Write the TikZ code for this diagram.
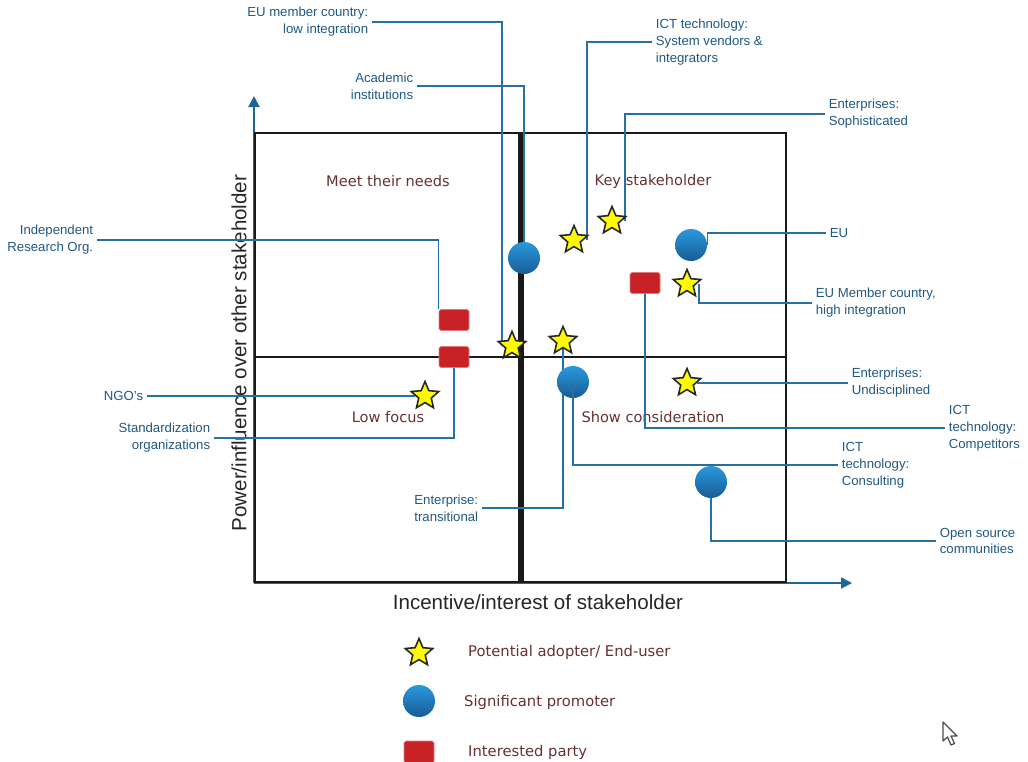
\documentclass[tikz,border=0pt]{standalone}
\usepackage{fontspec}
\setmainfont{Liberation Sans}
\newfontfamily\verdfont{DejaVu Sans}
\usetikzlibrary{arrows.meta}
\usetikzlibrary{shapes.geometric}
\pgfdeclarelayer{background}
\pgfsetlayers{background,main}
\definecolor{calblue}{RGB}{38,112,163}
\definecolor{caltext}{RGB}{32,88,132}
\definecolor{axblue}{RGB}{31,102,152}
\definecolor{quadred}{RGB}{104,48,48}
\definecolor{starfill}{RGB}{255,250,0}
\definecolor{promtop}{RGB}{42,152,222}
\definecolor{prombot}{RGB}{24,92,148}
\definecolor{partyred}{RGB}{200,34,38}
\tikzset{
    mk_star/.style = {star, star points=5, star point ratio=2.2, draw=black!85,
        fill=starfill, line width=0.9pt, minimum size=0.58cm, inner sep=0pt},% potential adopter
    mk_prom/.style = {circle, top color=promtop, bottom color=prombot,
        minimum size=0.64cm, inner sep=0pt},% significant promoter
    mk_party/.style = {rectangle, rounded corners=1pt, fill=partyred, draw=partyred!60,
        minimum width=0.6cm, minimum height=0.42cm, inner sep=0pt},% interested party
    callout/.style = {text=caltext, inner sep=2pt,
        font=\fontsize{7.5}{9.6}\selectfont},
    lbl_l/.style = {callout, anchor=west, align=left},% label right of its line
    lbl_r/.style = {callout, anchor=east, align=right},% label left of its line
    conn/.style = {draw=calblue, line width=0.9pt},
    quad/.style = {text=quadred, font=\verdfont\fontsize{8.3}{10}\selectfont},
    leg/.style = {quad, anchor=west, font=\verdfont\fontsize{8.4}{10}\selectfont},
    axlbl/.style = {font=\fontsize{11.7}{13}\selectfont, text=black!85},
    gridln/.style = {draw=black!90, line width=1.5pt},
    axis/.style = {axblue, line width=1.1pt, -{Triangle[length=0.22cm, width=0.22cm]}},
}
\begin{document}
\begin{tikzpicture}[x=0.02cm,y=-0.02cm]
\useasboundingbox (0,0) rectangle (1028,761);

\begin{pgfonlayer}{background}
% axes
\coordinate (orig) at (254,583);
\coordinate (ytip) at (254,96);
\coordinate (xtip) at (852,583);
\draw[axis] (orig) -- (ytip);
\draw[axis] (orig) -- (xtip);
% grid
\draw[gridln] (255,133) rectangle (786,582);
\draw[gridln] (255,357) -- (786,357);
\draw[gridln, line width=3pt] (521,133) -- (521,582);
\node[axlbl, rotate=90] (ylab) at (239,353) {Power/influence over other stakeholder};
\node[axlbl] (xlab) at (538,602) {Incentive/interest of stakeholder};
% quadrants
\node[quad] (q_meet) at (388,181) {Meet their needs};
\node[quad] (q_key) at (653,181) {Key stakeholder};
\node[quad] (q_low) at (388,417) {Low focus};
\node[quad] (q_show) at (653,417) {Show consideration};
\end{pgfonlayer}

% stakeholders
\node[mk_star] (s_vend) at (574,240) {};
\node[mk_star] (s_soph) at (612,221) {};
\node[mk_star] (s_high) at (687,284) {};
\node[mk_star] (s_low) at (512,346) {};
\node[mk_star] (s_trans) at (563,341) {};
\node[mk_star] (s_ngo) at (425,396) {};
\node[mk_star] (s_undis) at (687,383) {};
\node[mk_prom] (c_acad) at (524,258) {};
\node[mk_prom] (c_eu) at (691,245) {};
\node[mk_prom] (c_cons) at (573,382) {};
\node[mk_prom] (c_open) at (711,482) {};
\node[mk_party] (r_indep) at (454,320) {};
\node[mk_party] (r_stand) at (454,357) {};
\node[mk_party] (r_comp) at (645,283) {};

% labels
\node[lbl_r] (l_low) at (372,22) {EU member country:\\low integration};
\node[lbl_r] (l_acad) at (417,86) {Academic\\institutions};
\node[lbl_l] (l_vend) at (652,42) {ICT technology:\\System vendors \&\\integrators};
\node[lbl_l] (l_soph) at (825,114) {Enterprises:\\Sophisticated};
\node[lbl_l] (l_eu) at (826,233) {EU};
\node[lbl_l] (l_high) at (812,303) {EU Member country,\\high integration};
\node[lbl_r] (l_indep) at (97,240) {Independent\\Research Org.};
\node[lbl_r] (l_ngo) at (147,396) {NGO's};
\node[lbl_r] (l_stand) at (214,438) {Standardization\\organizations};
\node[lbl_l] (l_undis) at (848,383) {Enterprises:\\Undisciplined};
\node[lbl_l] (l_comp) at (945,428) {ICT\\technology:\\Competitors};
\node[lbl_l] (l_cons) at (838,465) {ICT\\technology:\\Consulting};
\node[lbl_r] (l_trans) at (482,508) {Enterprise:\\transitional};
\node[lbl_l] (l_open) at (936,541) {Open source\\communities};

\begin{pgfonlayer}{background}
\draw[conn] ([xshift=0.06cm]s_vend.east) |- (l_vend.west);
\draw[conn] ([xshift=0.06cm]s_soph.east) |- (l_soph.west);
\draw[conn] ([xshift=0.04cm]s_high.east) |- (l_high.west);
\draw[conn] (s_low.west) |- (l_low.east);
\draw[conn] (s_trans.south) |- (l_trans.east);
\draw[conn] (s_ngo.west) -- (l_ngo.east);
\draw[conn] (s_undis.east) -- (l_undis.west);
\draw[conn] (c_acad.north) |- (l_acad.east);
\draw[conn] (c_eu.east) |- (l_eu.west);
\draw[conn] (c_open.south) |- (l_open.west);
\draw[conn] (l_indep.east) -| (r_indep.north west);
\draw[conn] (r_stand.south) |- (l_stand.east);
\draw[conn] (r_comp.south) |- (l_comp.west);
\end{pgfonlayer}
\draw[conn] (c_cons.center) |- (l_cons.west);

% legend
\node[mk_star] (lg_star) at (419,653) {};
\node[mk_prom] (lg_prom) at (419,701) {};
\node[mk_party, minimum height=0.44cm] (lg_party) at (419,752) {};
\node[leg] (lg_t1) at (462,652) {Potential adopter/ End-user};
\node[leg] (lg_t2) at (458,702) {Significant promoter};
\node[leg] (lg_t3) at (462,752) {Interested party};

% pointer
\draw[black!70, fill=white, line width=0.7pt, line join=round]
    (943,722) -- ++(0,19) -- ++(4.5,-4) -- ++(3.5,8) -- ++(3.5,-1.5)
    -- ++(-3.5,-7.5) -- ++(6,0) -- cycle;
\end{tikzpicture}
\end{document}
